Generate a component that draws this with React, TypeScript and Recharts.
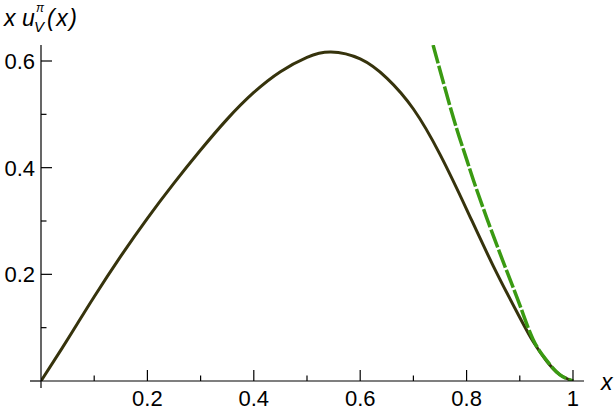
import React from 'react';
import { LineChart, Line, XAxis, YAxis, Label } from 'recharts';

// valence pdf  x u_V^pi(x)
const pdfX = [0, 0.04, 0.07, 0.1, 0.15, 0.2, 0.25, 0.3, 0.35, 0.4, 0.45, 0.5, 0.545, 0.6, 0.65, 0.7, 0.75, 0.8, 0.85, 0.9, 0.925, 0.95, 0.975, 1.0];
const pdfY = [0, 0.062, 0.110, 0.158, 0.234, 0.305, 0.371, 0.433, 0.491, 0.541, 0.580, 0.607, 0.617, 0.604, 0.568, 0.510, 0.425, 0.322, 0.216, 0.119, 0.074, 0.038, 0.012, 0];

// large-x asymptotic form (dashed)
const asymX = [0.737, 0.775, 0.797, 0.813, 0.844, 0.876, 0.901, 0.925, 0.95, 0.975, 1.0];
const asymY = [0.63, 0.494, 0.425, 0.376, 0.289, 0.205, 0.140, 0.078, 0.039, 0.012, 0];

const xTicks = [0, 0.1, 0.2, 0.3, 0.4, 0.5, 0.6, 0.7, 0.8, 0.9, 1];
const xLabelled = [0.2, 0.4, 0.6, 0.8, 1];
const yTicks = [0.1, 0.2, 0.3, 0.4, 0.5, 0.6];
const yLabelled = [0.2, 0.4, 0.6];

const X_DOMAIN: [number, number] = [0, 1.0207];
const Y_DOMAIN: [number, number] = [0, 0.63];

const pdfData = pdfX.map((x, i) => ({ x, y: pdfY[i] }));
const asymData = asymX.map((x, i) => ({ x, y: asymY[i] }));

const FONT = '"Liberation Sans", Arial, Helvetica, sans-serif';

const XTick = (props: any) => {
  const { x, y, payload } = props;
  const v = payload.value;
  if (v === 0) {
    return (
      <g>
        <line x1={x - 11} x2={x} y1={y} y2={y} stroke="#000" strokeWidth={1.2} />
        <line x1={x} x2={x} y1={y} y2={y + 7} stroke="#000" strokeWidth={1.2} />
      </g>
    );
  }
  const major = xLabelled.some((t) => Math.abs(t - v) < 1e-9);
  return (
    <g>
      <line x1={x} x2={x} y1={y} y2={y - (major ? 11 : 5.5)} stroke="#000" strokeWidth={1.2} />
      {major && (
        <text x={x} y={y + 25} textAnchor="middle" fontSize={22} fontFamily={FONT} fill="#000">
          {String(v)}
        </text>
      )}
    </g>
  );
};

const YTick = (props: any) => {
  const { x, y, payload } = props;
  const v = payload.value;
  const major = yLabelled.some((t) => Math.abs(t - v) < 1e-9);
  return (
    <g>
      <line x1={x} x2={x + (major ? 11 : 5.5)} y1={y} y2={y} stroke="#000" strokeWidth={1.2} />
      {major && (
        <text x={x - 6} y={y + 8} textAnchor="end" fontSize={22} fontFamily={FONT} fill="#000">
          {String(v)}
        </text>
      )}
    </g>
  );
};

const YTitle = () => (
  <g fontStyle="italic" fontFamily={FONT} fill="#000">
    <text x={4} y={26} fontSize={23}>x u</text>
    <text x={36} y={12} fontSize={12}>π</text>
    <text x={34} y={32} fontSize={15}>V</text>
    <text x={47} y={26} fontSize={23} letterSpacing={1.5}>(x)</text>
  </g>
);

const XTitle = () => (
  <text x={601} y={390} fontSize={23} fontStyle="italic" fontFamily={FONT} fill="#000">
    x
  </text>
);

export default function App() {
  return (
    <div style={{ position: 'absolute', left: 0, top: 0, width: 614, height: 415, background: '#fff' }}>
      <LineChart width={614} height={415} margin={{ top: 45, right: 30, left: 0, bottom: 0 }}>
        <XAxis
          type="number"
          dataKey="x"
          domain={X_DOMAIN}
          allowDataOverflow
          ticks={xTicks}
          interval={0}
          tickSize={0}
          tickMargin={0}
          tickLine={false}
          axisLine={{ stroke: '#000', strokeWidth: 1.2 }}
          tick={<XTick />}
          height={34}
        >
          <Label content={<XTitle />} />
        </XAxis>
        <YAxis
          type="number"
          domain={Y_DOMAIN}
          allowDataOverflow
          ticks={yTicks}
          interval={0}
          tickSize={0}
          tickMargin={0}
          tickLine={false}
          axisLine={{ stroke: '#000', strokeWidth: 1.2 }}
          tick={<YTick />}
          width={41}
        >
          <Label content={<YTitle />} />
        </YAxis>
        <Line
          data={pdfData}
          dataKey="y"
          type="natural"
          stroke="#36330c"
          strokeWidth={3}
          dot={false}
          isAnimationActive={false}
        />
        <Line
          data={asymData}
          dataKey="y"
          type="natural"
          stroke="#3a9a12"
          strokeWidth={3.5}
          strokeDasharray="19 2.5"
          dot={false}
          isAnimationActive={false}
        />
      </LineChart>
    </div>
  );
}
